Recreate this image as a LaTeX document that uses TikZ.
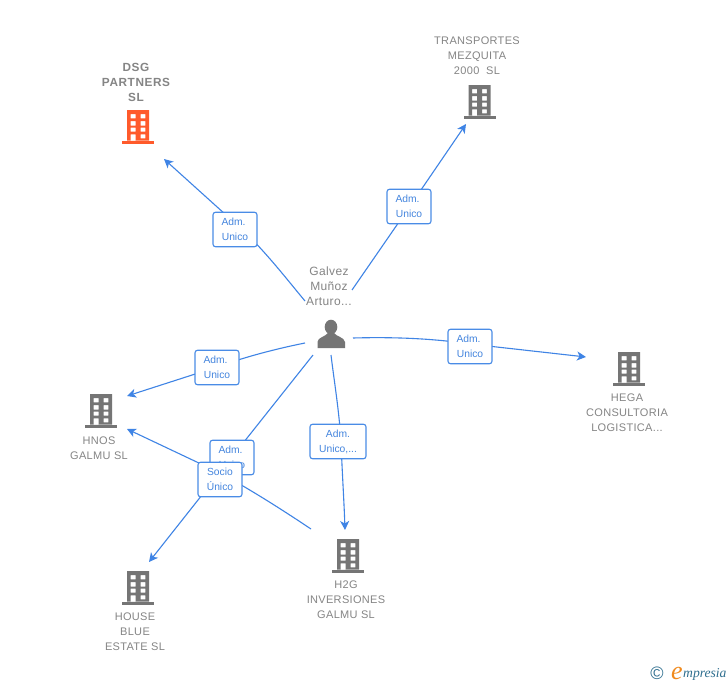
\documentclass[tikz,border=0pt]{standalone}
\usepackage{fontspec}
\setmainfont{Liberation Sans}
\usetikzlibrary{arrows.meta}
\definecolor{edgeblue}{HTML}{3F84E5}
\definecolor{boxblue}{HTML}{4A8CE6}
\definecolor{txtblue}{HTML}{4485DE}
\definecolor{namegrey}{HTML}{858585}
\definecolor{iconorange}{HTML}{FF5A2B}
\definecolor{icongrey}{HTML}{757575}
\definecolor{logoteal}{HTML}{2F6F8F}
\definecolor{logoorange}{HTML}{F08A1D}
\newfontfamily\logofont{Liberation Serif}
\newcommand{\admlabel}{Adm.\hphantom{.}\\Unico}
\tikzset{
  x=1pt,y=-1pt,
  link/.style={draw=edgeblue,line width=1.1pt},
  arrowlink/.style={link,-{Stealth[length=9pt,width=9pt,inset=2.5pt]}},
  rolebox/.style={draw=boxblue,line width=1.1pt,fill=white,rounded corners=2.5pt,inner sep=0pt,
    minimum width=44pt,minimum height=34.5pt,align=center,text=txtblue,
    font=\fontsize{10.3}{15}\selectfont},
  corpname/.style={align=center,text=namegrey,inner sep=0pt,
    font=\fontsize{11}{15}\selectfont\addfontfeatures{LetterSpace=3}},
  building/.pic={
    \fill[pic actions,even odd rule]
      (-11,-17) rectangle (11,13.5)
      (-7.3,-13) rectangle (-2.3,-8.7)
      (2.7,-13) rectangle (7.3,-8.7)
      (-7.3,-6) rectangle (-2.3,-1.3)
      (2.7,-6) rectangle (7.3,-1.3)
      (-7.3,0.7) rectangle (-2.3,4.7)
      (2.7,0.7) rectangle (7.3,4.7)
      (-7.3,7.3) rectangle (-2.3,13.5)
      (2.7,7.3) rectangle (7.3,11.3);
    \fill[pic actions] (-16,14) rectangle (16,17);
  }
}
\begin{document}
\begin{tikzpicture}
\useasboundingbox (0,0) rectangle (728,685);
\fill[white] (0,0) rectangle (728,685);

% icons
\pic[fill=iconorange] at (138,127) {building};
\pic[fill=icongrey] at (479.5,102) {building};
\pic[fill=icongrey] at (629,369) {building};
\pic[fill=icongrey] at (101,411) {building};
\pic[fill=icongrey] at (138,588) {building};
\pic[fill=icongrey] at (348,556) {building};
\fill[icongrey] (331,327) ellipse (6.3 and 7.3);
\fill[icongrey] (317.5,348) -- (317.5,342) .. controls (318,337) and (325,337) .. (328,333)
  -- (334,333) .. controls (337,337) and (344,337) .. (345,342) -- (345,348) -- cycle;

% free ends
\coordinate (dsgEnd) at (164,159);
\coordinate (dsgStart) at (305,301);
\coordinate (traStart) at (352,290);
\coordinate (traEnd) at (466,124);
\coordinate (hegStart) at (353,338);
\coordinate (hegEnd) at (586,357);
\coordinate (hnoStart) at (305,343);
\coordinate (hnoEnd) at (127,396);
\coordinate (houStart) at (313,355);
\coordinate (houEnd) at (149,562);
\coordinate (h2gStart) at (331,355);
\coordinate (h2gEnd) at (345,530);
\coordinate (socStart) at (311,529);
\coordinate (socEnd) at (127,429);

% points the connectors pass through, hidden behind the role boxes
\coordinate (wDsg) at (236,224);
\coordinate (wTra) at (410,206);
\coordinate (wHeg) at (470,344);
\coordinate (wHno) at (217,367);
\coordinate (wHou) at (232,457);
\coordinate (wH2g) at (341,441);
\coordinate (wSoc) at (220,473);

% connectors
\draw[link] (dsgStart) .. controls (285,277) and (262,247) .. (wDsg);
\draw[arrowlink] (wDsg) -- (dsgEnd);
\draw[link] (traStart) -- (wTra);
\draw[arrowlink] (wTra) -- (traEnd);
\draw[link] (hegStart) .. controls (390,337) and (430,338) .. (wHeg);
\draw[arrowlink] (wHeg) -- (hegEnd);
\draw[link] (hnoStart) .. controls (275,349) and (245,357) .. (wHno);
\draw[arrowlink] (wHno) -- (hnoEnd);
\draw[link] (houStart) -- (wHou);
\draw[arrowlink] (wHou) -- (houEnd);
\draw[link] (h2gStart) .. controls (334,380) and (339,410) .. (wH2g);
\draw[arrowlink] (wH2g) .. controls (342,470) and (344,500) .. (h2gEnd);
\draw[link] (socStart) .. controls (290,515) and (255,492) .. (wSoc);
\draw[arrowlink] (wSoc) -- (socEnd);

% role boxes
\node[rolebox] (lDsg) at (235,229.5) {\admlabel};
\node[rolebox] (lTra) at (409,206.5) {\admlabel};
\node[rolebox] (lHeg) at (470,346.5) {\admlabel};
\node[rolebox] (lHno) at (217,367.5) {\admlabel};
\node[rolebox] (lHou) at (232,457.5) {\admlabel};
\node[rolebox,minimum width=56pt] (lH2g) at (338,441.5) {Adm.\\Unico,...};
\node[rolebox] (lSoc) at (220,479.5) {Socio\\Único};

% names
\node[corpname,font=\fontsize{11.8}{15}\selectfont\bfseries\addfontfeatures{LetterSpace=5}] (nDsg) at (136,82) {DSG\\PARTNERS\\SL};
\node[corpname] (nTra) at (477,56) {TRANSPORTES\\MEZQUITA\\2000\ \ SL};
\node[corpname] (nHeg) at (627,413) {HEGA\\CONSULTORIA\\LOGISTICA...};
\node[corpname] (nHno) at (99,448) {HNOS\\GALMU SL};
\node[corpname] (nHou) at (135,632) {HOUSE\\BLUE\\ESTATE SL};
\node[corpname] (nH2g) at (346,600) {H2G\\INVERSIONES\\GALMU SL};
\node[align=center,text=namegrey,inner sep=0pt,font=\fontsize{12}{15}\selectfont\addfontfeatures{LetterSpace=3}] (nPer) at (329,286) {Galvez\\Muñoz\\Arturo...};

% logo
\node[inner sep=0pt,text=logoteal,font=\fontsize{18}{18}\selectfont] (copy) at (657,673.5) {©};
\node[anchor=base,inner sep=0pt,text=logoorange,font=\logofont\itshape\fontsize{26}{26}\selectfont] (logoE) at (677,679) {e};
\node[anchor=base west,inner sep=0pt,text=logoteal,font=\logofont\itshape\fontsize{13.6}{14}\selectfont] (logoT) at (683,677) {mpresia};
\end{tikzpicture}
\end{document}
